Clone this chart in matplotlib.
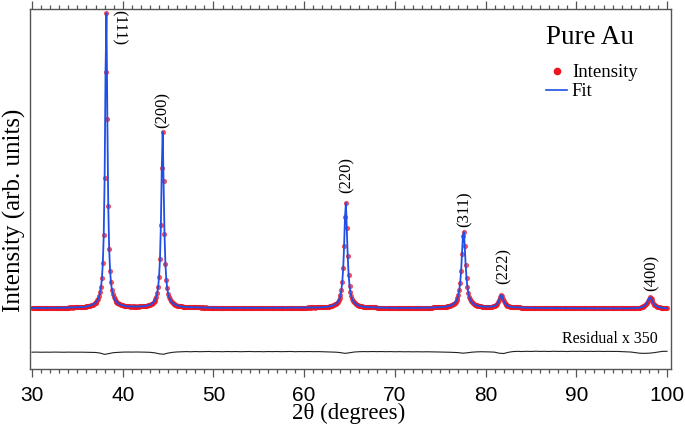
import numpy as np
import matplotlib
matplotlib.use("Agg")
import matplotlib.pyplot as plt
from matplotlib.lines import Line2D
from matplotlib.ticker import MultipleLocator

plt.rcParams["font.family"] = ["Liberation Serif", "DejaVu Serif"]

RED = "#ec1520"
BLUE = "#1f4fe6"
AXIS_GRAY = "#555555"

# ----------------------------
# Data (arb. units), 2theta = 30.0 ... 100.0, step 0.1
# ----------------------------
SCAN_START, SCAN_STEP = 30.0, 0.1
intensity = [
    1.05, 0.95, 1.02, 0.98, 1.08, 0.97, 1.01, 0.93, 1.04, 0.99,   # 30
    1.02, 0.96, 1.06, 0.98, 1.00, 0.94, 1.05, 1.01, 0.97, 1.03,   # 31
    1.08, 1.00, 1.04, 1.09, 0.99, 1.06, 1.02, 1.10, 1.01, 1.05,   # 32
    1.12, 1.04, 1.09, 1.13, 1.05, 1.10, 1.07, 1.14, 1.08, 1.12,   # 33
    1.15, 1.20, 1.12, 1.18, 1.21, 1.14, 1.19, 1.23, 1.17, 1.22,   # 34
    1.25, 1.29, 1.24, 1.30, 1.27, 1.33, 1.30, 1.36, 1.34, 1.38,   # 35
    1.56, 1.57, 1.66, 1.70, 1.82, 1.88, 2.03, 2.14, 2.35, 2.52,   # 36
    2.80, 3.15, 3.60, 4.20, 5.05, 6.25, 8.10, 11.0, 16.1, 25.6,   # 37
    45.1, 81.0, 101.0, 65.0, 35.6, 21.0, 13.7, 9.65, 7.25, 5.70,  # 38
    4.72, 3.99, 3.46, 3.06, 2.75, 2.51, 2.31, 2.17, 2.04, 1.94,   # 39
    1.88, 1.76, 1.73, 1.65, 1.63, 1.58, 1.52, 1.55, 1.49, 1.50,   # 40
    1.47, 1.52, 1.46, 1.50, 1.44, 1.49, 1.45, 1.51, 1.47, 1.52,   # 41
    1.52, 1.50, 1.58, 1.56, 1.65, 1.66, 1.75, 1.79, 1.90, 1.97,   # 42
    2.08, 2.24, 2.43, 2.67, 3.00, 3.43, 4.02, 4.87, 6.15, 8.10,   # 43
    11.5, 17.5, 29.1, 48.3, 60.7, 44.1, 26.1, 16.0, 10.6, 7.60,   # 44
    5.85, 4.71, 3.93, 3.37, 2.97, 2.66, 2.43, 2.24, 2.10, 1.97,   # 45
    1.79, 1.73, 1.62, 1.60, 1.51, 1.50, 1.43, 1.44, 1.37, 1.38,   # 46
    1.33, 1.30, 1.31, 1.27, 1.29, 1.25, 1.27, 1.23, 1.26, 1.22,   # 47
    1.20, 1.22, 1.18, 1.21, 1.17, 1.19, 1.15, 1.18, 1.16, 1.14,   # 48
    1.15, 1.12, 1.16, 1.10, 1.13, 1.11, 1.14, 1.09, 1.12, 1.10,   # 49
    1.08, 1.04, 1.10, 1.03, 1.07, 1.01, 1.06, 1.09, 1.02, 1.05,   # 50
    1.03, 1.07, 1.00, 1.06, 1.02, 1.08, 1.04, 0.99, 1.05, 1.03,   # 51
    1.06, 1.01, 1.04, 1.08, 1.00, 1.05, 1.02, 1.07, 1.03, 0.99,   # 52
    1.04, 1.07, 1.01, 1.05, 1.03, 0.98, 1.06, 1.02, 1.04, 1.00,   # 53
    1.03, 1.06, 0.99, 1.04, 1.07, 1.01, 1.03, 1.05, 1.00, 1.04,   # 54
    1.02, 1.05, 1.01, 1.06, 1.03, 0.99, 1.04, 1.07, 1.02, 1.05,   # 55
    1.04, 1.01, 1.06, 1.03, 1.07, 1.02, 1.05, 1.08, 1.03, 1.06,   # 56
    1.05, 1.08, 1.04, 1.07, 1.03, 1.09, 1.06, 1.04, 1.08, 1.07,   # 57
    1.07, 1.10, 1.06, 1.09, 1.11, 1.07, 1.10, 1.12, 1.08, 1.11,   # 58
    1.10, 1.13, 1.09, 1.12, 1.14, 1.10, 1.13, 1.15, 1.11, 1.14,   # 59
    1.12, 1.15, 1.11, 1.14, 1.16, 1.13, 1.17, 1.14, 1.18, 1.16,   # 60
    1.16, 1.18, 1.15, 1.19, 1.17, 1.21, 1.19, 1.23, 1.22, 1.25,   # 61
    1.26, 1.26, 1.31, 1.31, 1.36, 1.38, 1.44, 1.46, 1.54, 1.58,   # 62
    1.67, 1.76, 1.87, 2.00, 2.17, 2.40, 2.68, 3.06, 3.58, 4.32,   # 63
    5.40, 7.08, 9.80, 14.4, 22.0, 31.9, 36.6, 28.0, 18.5, 12.2,   # 64
    8.54, 6.30, 4.92, 3.99, 3.35, 2.89, 2.56, 2.30, 2.10, 1.95,   # 65
    1.83, 1.71, 1.64, 1.55, 1.51, 1.44, 1.42, 1.36, 1.35, 1.30,   # 66
    1.30, 1.26, 1.27, 1.23, 1.24, 1.21, 1.21, 1.18, 1.19, 1.16,   # 67
    1.15, 1.13, 1.14, 1.12, 1.13, 1.11, 1.12, 1.10, 1.11, 1.09,   # 68
    1.08, 1.06, 1.09, 1.05, 1.07, 1.04, 1.06, 1.03, 1.05, 1.02,   # 69
    1.03, 1.00, 1.04, 0.99, 1.02, 1.05, 1.01, 0.98, 1.03, 1.00,   # 70
    1.02, 0.99, 1.04, 1.01, 0.98, 1.03, 1.00, 1.04, 1.01, 1.03,   # 71
    1.02, 1.05, 1.01, 1.04, 1.02, 1.06, 1.03, 1.05, 1.04, 1.07,   # 72
    1.05, 1.08, 1.06, 1.09, 1.07, 1.10, 1.08, 1.11, 1.10, 1.13,   # 73
    1.14, 1.15, 1.16, 1.18, 1.18, 1.19, 1.21, 1.22, 1.24, 1.25,   # 74
    1.27, 1.27, 1.32, 1.33, 1.38, 1.39, 1.46, 1.49, 1.56, 1.61,   # 75
    1.70, 1.80, 1.91, 2.05, 2.23, 2.46, 2.76, 3.14, 3.67, 4.42,   # 76
    5.50, 7.11, 9.63, 13.6, 19.3, 25.4, 26.8, 21.9, 15.6, 11.0,   # 77
    7.98, 6.06, 4.80, 3.94, 3.34, 2.90, 2.57, 2.31, 2.12, 1.96,   # 78
    1.85, 1.77, 1.67, 1.62, 1.55, 1.54, 1.49, 1.47, 1.44, 1.42,   # 79
    1.41, 1.41, 1.42, 1.42, 1.43, 1.43, 1.46, 1.49, 1.55, 1.61,   # 80
    1.70, 1.86, 2.10, 2.45, 2.99, 3.79, 4.76, 5.41, 5.11, 4.17,   # 81
    3.26, 2.63, 2.21, 1.93, 1.73, 1.60, 1.51, 1.44, 1.38, 1.34,   # 82
    1.31, 1.26, 1.27, 1.23, 1.24, 1.20, 1.21, 1.17, 1.18, 1.15,   # 83
    1.14, 1.11, 1.13, 1.09, 1.12, 1.08, 1.11, 1.07, 1.10, 1.06,   # 84
    1.05, 1.02, 1.06, 1.01, 1.04, 0.99, 1.03, 1.00, 1.04, 0.98,   # 85
    1.01, 0.97, 1.02, 0.99, 1.03, 0.96, 1.00, 0.98, 1.01, 0.97,   # 86
    0.99, 0.96, 1.00, 0.95, 0.98, 0.97, 0.94, 0.99, 0.96, 0.98,   # 87
    0.95, 0.97, 0.93, 0.96, 0.94, 0.98, 0.93, 0.95, 0.97, 0.92,   # 88
    0.94, 0.91, 0.95, 0.93, 0.90, 0.94, 0.92, 0.95, 0.91, 0.93,   # 89
    0.90, 0.93, 0.89, 0.92, 0.90, 0.94, 0.88, 0.91, 0.93, 0.89,   # 90
    0.91, 0.88, 0.92, 0.90, 0.87, 0.91, 0.89, 0.92, 0.88, 0.90,   # 91
    0.87, 0.90, 0.88, 0.91, 0.86, 0.89, 0.87, 0.90, 0.88, 0.86,   # 92
    0.89, 0.86, 0.88, 0.85, 0.89, 0.87, 0.84, 0.88, 0.86, 0.89,   # 93
    0.86, 0.84, 0.88, 0.85, 0.87, 0.84, 0.86, 0.88, 0.85, 0.87,   # 94
    0.86, 0.84, 0.87, 0.85, 0.88, 0.86, 0.89, 0.87, 0.90, 0.88,   # 95
    0.91, 0.89, 0.93, 0.92, 0.96, 0.96, 1.00, 1.01, 1.06, 1.07,   # 96
    1.13, 1.19, 1.27, 1.37, 1.51, 1.70, 1.96, 2.31, 2.82, 3.45,   # 97
    4.15, 4.58, 4.46, 3.89, 3.19, 2.60, 2.16, 1.84, 1.61, 1.45,   # 98
    1.33, 1.24, 1.17, 1.14, 1.09, 1.03, 1.00, 0.98, 0.96, 0.94,   # 99
    0.93,                                                         # 100
]
two_theta = np.round(SCAN_START + SCAN_STEP * np.arange(len(intensity)), 2)

# Residual (obs - fit, x350), already shifted below the pattern; step 0.5
RES_START, RES_STEP = 30.0, 0.5
residual = [
    -14.00, -13.98, -14.02, -13.99, -14.01, -13.97, -14.00, -14.02, -13.98, -14.01,  # 30-34.5
    -13.99, -14.00, -14.03, -14.05, -14.10, -14.30, -14.75, -14.45, -14.15, -14.05,  # 35-39.5
    -13.98, -13.95, -13.97, -13.94, -13.96, -14.00, -14.05, -14.20, -14.55, -14.70,  # 40-44.5
    -14.30, -14.05, -13.92, -13.85, -13.80, -13.86, -13.78, -13.84, -13.80, -13.76,  # 45-49.5
    -13.83, -13.79, -13.85, -13.77, -13.82, -13.78, -13.84, -13.80, -13.76, -13.83,  # 50-54.5
    -13.79, -13.85, -13.78, -13.82, -13.77, -13.83, -13.80, -13.76, -13.84, -13.79,  # 55-59.5
    -13.82, -13.78, -13.83, -13.80, -13.85, -13.88, -13.92, -14.00, -14.15, -14.40,  # 60-64.5
    -14.20, -13.95, -13.85, -13.80, -13.83, -13.78, -13.82, -13.79, -13.84, -13.80,  # 65-69.5
    -13.86, -13.82, -13.87, -13.84, -13.88, -13.85, -13.89, -13.86, -13.90, -13.92,  # 70-74.5
    -13.95, -13.98, -14.02, -14.08, -14.15, -14.35, -14.20, -14.00, -13.90, -13.85,  # 75-79.5
    -13.88, -13.92, -14.00, -14.35, -14.45, -14.05, -13.80, -13.72, -13.78, -13.70,  # 80-84.5
    -13.76, -13.68, -13.74, -13.71, -13.77, -13.69, -13.75, -13.72, -13.78, -13.70,  # 85-89.5
    -13.74, -13.69, -13.76, -13.71, -13.75, -13.70, -13.77, -13.72, -13.76, -13.74,  # 90-94.5
    -13.80, -13.85, -13.95, -14.15, -14.35, -14.40, -14.35, -14.20, -13.95, -13.72,  # 95-99.5
    -13.70,                                                                          # 100
]
res_theta = RES_START + RES_STEP * np.arange(len(residual))

# Reflections
hkl = ["(111)", "(200)", "(220)", "(311)", "(222)", "(400)"]
peak_pos = [38.18, 44.39, 64.58, 77.55, 81.72, 98.13]

# label offsets from peak top (pixels) and rotation
label_offsets = [(13, -14), (0, 4), (1, 10), (1, 5), (2, 11), (2, 6)]
label_rot = [-90, 90, 90, 90, 90, 90]

# ----------------------------
# Figure
# ----------------------------
fig = plt.figure(figsize=(6.85, 4.29), dpi=100)
ax = fig.add_axes([0.0431, 0.1399, 0.9358, 0.8392])

ax.plot(two_theta, intensity, linestyle="None", marker="o", markersize=3.7,
        markerfacecolor=RED, markeredgecolor="none", alpha=0.75, zorder=2)
ax.plot(two_theta, intensity, color=BLUE, lw=1.3, zorder=3)
ax.plot(res_theta, residual, color="#222222", lw=0.8, zorder=3)

inten = np.asarray(intensity)
for lab, pos, (dx, dy), rot in zip(hkl, peak_pos, label_offsets, label_rot):
    win = np.abs(two_theta - pos) <= 0.3
    top = inten[win].max()
    if rot < 0:
        ax.annotate(lab, (pos, top), xytext=(dx, dy), textcoords="offset pixels",
                    rotation=rot, ha="center", va="center", fontsize=12)
    else:
        ax.annotate(lab, (pos, top), xytext=(dx, dy), textcoords="offset pixels",
                    rotation=rot, ha="center", va="bottom", fontsize=12)

ax.text(0.9805, 0.0833, "Residual x 350", transform=ax.transAxes,
        ha="right", va="center", fontsize=11.5)

ax.set_xlim(29.72, 100.39)
ax.set_ylim(-19.7, 102.4)

ax.xaxis.set_major_locator(MultipleLocator(10))
ax.xaxis.set_minor_locator(MultipleLocator(1))
ax.tick_params(axis="x", which="both", direction="out", top=True, bottom=True,
               color=AXIS_GRAY, width=0.9)
ax.tick_params(axis="x", which="major", length=5.5, pad=6.5, labelsize=15)
ax.tick_params(axis="x", which="minor", length=3.2)
ax.tick_params(axis="y", left=False, right=False, labelleft=False)
for lbl in ax.get_xticklabels():
    lbl.set_fontfamily("Liberation Sans")
for sp in ax.spines.values():
    sp.set_color(AXIS_GRAY)
    sp.set_linewidth(1.0)

ax.set_xlabel("2θ (degrees)", fontsize=16.5)
ax.xaxis.set_label_coords(0.498, -0.094)
ax.set_ylabel("Intensity (arb. units)", fontsize=18)
ax.yaxis.set_label_coords(-0.0055, 0.44)

handles = [
    Line2D([0], [0], linestyle="None", marker="o", markersize=5.5,
           markerfacecolor=RED, markeredgecolor="none"),
    Line2D([0], [0], color=BLUE, lw=1.2),
]
leg = ax.legend(handles, ["Intensity", "Fit"], title="Pure Au", loc="upper left",
                bbox_to_anchor=(0.806, 0.955), frameon=False, alignment="left",
                title_fontsize=19.5, fontsize=13.5, handlelength=1.1,
                handletextpad=0.27, labelspacing=0.1, borderpad=0,
                borderaxespad=0)
leg._legend_box.sep = 10

fig.savefig("out.png", dpi=100)
